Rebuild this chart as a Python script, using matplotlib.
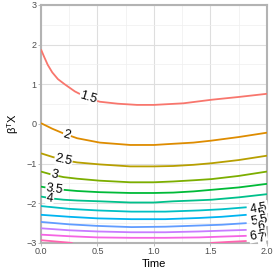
import matplotlib
matplotlib.use("Agg")
import matplotlib.pyplot as plt
import numpy as np

plt.rcParams['font.family'] = ['Liberation Sans', 'DejaVu Sans']

levels = ["1.5", "2", "2.5", "3", "3.5", "4", "4.5", "5", "5.5", "6", "6.5", "7"]
colors = ["#F8766D", "#DE8C00", "#B79F00", "#7CAE00", "#00BA38", "#00C08B",
          "#00BFC4", "#00B4F0", "#619CFF", "#C77CFF", "#F564E3", "#FF64B0"]

# contour lines (Time, beta^T X)
x_15 = [0, 0.03, 0.06, 0.1, 0.15, 0.21, 0.30, 0.41, 0.52, 0.68, 0.85, 1.0, 1.26, 1.51, 1.75, 2.0]
y_15 = [1.88, 1.68, 1.49, 1.30, 1.13, 1.0, 0.82, 0.66, 0.56, 0.51, 0.48, 0.48, 0.52, 0.61, 0.68, 0.76]

x_mid = [0, 0.1, 0.2, 0.32, 0.52, 0.79, 1.0, 1.17, 1.35, 1.51, 1.75, 2.0]
y_20 = [0.02, -0.12, -0.24, -0.36, -0.47, -0.53, -0.53, -0.50, -0.47, -0.42, -0.33, -0.22]
y_25 = [-0.74, -0.83, -0.91, -0.97, -1.02, -1.07, -1.07, -1.06, -1.03, -0.99, -0.91, -0.80]
y_30 = [-1.20, -1.28, -1.34, -1.38, -1.43, -1.47, -1.47, -1.45, -1.42, -1.39, -1.31, -1.20]
y_35 = [-1.58, -1.63, -1.66, -1.69, -1.72, -1.74, -1.74, -1.73, -1.70, -1.66, -1.60, -1.51]
y_40 = [-1.83, -1.88, -1.91, -1.93, -1.95, -1.98, -1.98, -1.95, -1.93, -1.91, -1.85, -1.77]

x_low = [0, 0.25, 0.5, 0.8, 1.1, 1.4, 1.6, 1.82]
y_45 = [-2.07, -2.14, -2.18, -2.21, -2.21, -2.18, -2.15, -2.10]
y_50 = [-2.29, -2.34, -2.38, -2.40, -2.40, -2.37, -2.34, -2.29]
y_55 = [-2.47, -2.53, -2.57, -2.60, -2.59, -2.56, -2.54, -2.50]
y_60 = [-2.63, -2.68, -2.71, -2.73, -2.73, -2.71, -2.69, -2.67]
y_65 = [-2.79, -2.83, -2.86, -2.87, -2.87, -2.86, -2.84, -2.82]

x_70a = [0, 0.1, 0.2, 0.28]
y_70a = [-2.93, -2.955, -2.98, -3.0]
x_70b = [1.5, 1.65, 1.82]
y_70b = [-3.0, -2.975, -2.95]

lines = [
    [(x_15, y_15)],
    [(x_mid, y_20)], [(x_mid, y_25)], [(x_mid, y_30)], [(x_mid, y_35)], [(x_mid, y_40)],
    [(x_low, y_45)], [(x_low, y_50)], [(x_low, y_55)], [(x_low, y_60)], [(x_low, y_65)],
    [(x_70a, y_70a), (x_70b, y_70b)],
]

# label positions (x, y, rotation)
label_x = [0.42, 0.23, 0.20, 0.12, 0.12, 0.08, 1.93, 1.95, 1.93, 1.95, 1.92, 1.95]
label_y = [0.66, -0.27, -0.90, -1.28, -1.64, -1.89, -2.12, -2.25, -2.44, -2.58, -2.81, -2.88]
label_rot = [-17, -16, -13, -12, -8, -8, 10, 10, 10, 10, 10, 10]

fig = plt.figure(figsize=(2.73, 2.73), dpi=100)
ax = fig.add_axes([0.150, 0.110, 0.828, 0.872])

for segs, c in zip(lines, colors):
    for xs, ys in segs:
        ax.plot(xs, ys, color=c, lw=1.3, solid_capstyle='butt', zorder=3, clip_on=True)

for lx, ly, lr, lab in zip(label_x, label_y, label_rot, levels):
    ax.text(lx, ly, lab, fontsize=9, color='black', rotation=lr,
            ha='center', va='center', rotation_mode='anchor', zorder=5,
            bbox=dict(boxstyle='square,pad=0.05', fc='white', ec='none'))

ax.set_xlim(0, 2)
ax.set_ylim(-3, 3)
ax.set_xticks([0, 0.5, 1.0, 1.5, 2.0])
ax.set_xticklabels(["0.0", "0.5", "1.0", "1.5", "2.0"])
ax.set_yticks([-3, -2, -1, 0, 1, 2, 3])
ax.set_yticklabels(["\u22123", "\u22122", "\u22121", "0", "1", "2", "3"])
ax.set_xticks([0.25, 0.75, 1.25, 1.75], minor=True)
ax.set_yticks([-2.5, -1.5, -0.5, 0.5, 1.5, 2.5], minor=True)
ax.grid(True, which='major', color='#DEDEDE', lw=0.8, zorder=0)
ax.grid(True, which='minor', color='#EFEFEF', lw=0.5, zorder=0)
ax.set_axisbelow(True)
ax.tick_params(which='major', length=2, width=0.6, color='#B3B3B3',
               labelsize=6.5, labelcolor='#4D4D4D', pad=1)
ax.tick_params(which='minor', length=0)
for s in ax.spines.values():
    s.set_color('#B3B3B3')
    s.set_linewidth(1.5)
ax.set_xlabel("Time", fontsize=8, labelpad=2)
ax.set_ylabel(r"$\mathregular{\beta^{T}X}$", fontsize=8, labelpad=4)

fig.savefig("out.png", dpi=100)
